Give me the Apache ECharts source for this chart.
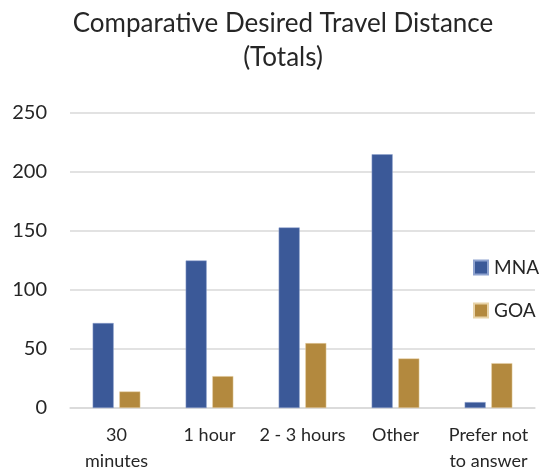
<!DOCTYPE html>
<html><head><meta charset="utf-8">
<script src="https://cdn.jsdelivr.net/npm/echarts@6/dist/echarts.min.js"></script>
<style>html,body{margin:0;padding:0;background:#fff}#c{width:539px;height:472px}</style>
</head><body><div id="c"></div>
<script>
var categories = ['30\nminutes', '1 hour', '2 - 3 hours', 'Other', 'Prefer not\nto answer'];
var mna = [72, 125, 153, 215, 5];
var goa = [14, 27, 55, 42, 38];
var yTicks = [0, 50, 100, 150, 200, 250];
var FONT = 'Lato, "Open Sans", sans-serif';
var chart = echarts.init(document.getElementById('c'), null, {renderer: 'canvas'});
chart.setOption({
  animation: false,
  backgroundColor: '#fff',
  title: {
    text: 'Comparative Desired Travel Distance\n(Totals)',
    left: 278, top: 2, textAlign: 'center',
    textStyle: {fontFamily: FONT, fontWeight: 'normal', fontSize: 26, color: '#262626', lineHeight: 34}
  },
  legend: {
    orient: 'vertical', left: 468, top: 253, itemWidth: 14, itemHeight: 14, itemGap: 24,
    icon: 'rect',
    textStyle: {fontFamily: FONT, fontSize: 19, color: '#262626', padding: [0,0,0,1]},
    data: ['MNA', 'GOA']
  },
  grid: {left: 70, right: 4, top: 113, bottom: 64, containLabel: false, outerBoundsMode: 'none'},
  xAxis: {
    type: 'category', data: categories,
    axisLine: {show: true, lineStyle: {color: '#d9d9d9', width: 1.5}},
    axisTick: {show: false},
    axisLabel: {fontFamily: FONT, fontSize: 18, color: '#262626', lineHeight: 26, margin: 14, interval: 0}
  },
  yAxis: {
    type: 'value', min: yTicks[0], max: yTicks[yTicks.length-1], interval: 50,
    axisLine: {show: false}, axisTick: {show: false},
    splitLine: {lineStyle: {color: '#d9d9d9', width: 1.5}},
    axisLabel: {fontFamily: FONT, fontSize: 20, color: '#262626', margin: 23}
  },
  series: [
    {name: 'MNA', type: 'bar', data: mna, barWidth: 21, barGap: '27%',
     itemStyle: {color: '#3B5998', borderColor: '#8fa3cf', borderWidth: 0.5}},
    {name: 'GOA', type: 'bar', data: goa, barWidth: 21,
     itemStyle: {color: '#B3893E', borderColor: '#e8d3a8', borderWidth: 0.5}}
  ]
});
</script></body></html>
